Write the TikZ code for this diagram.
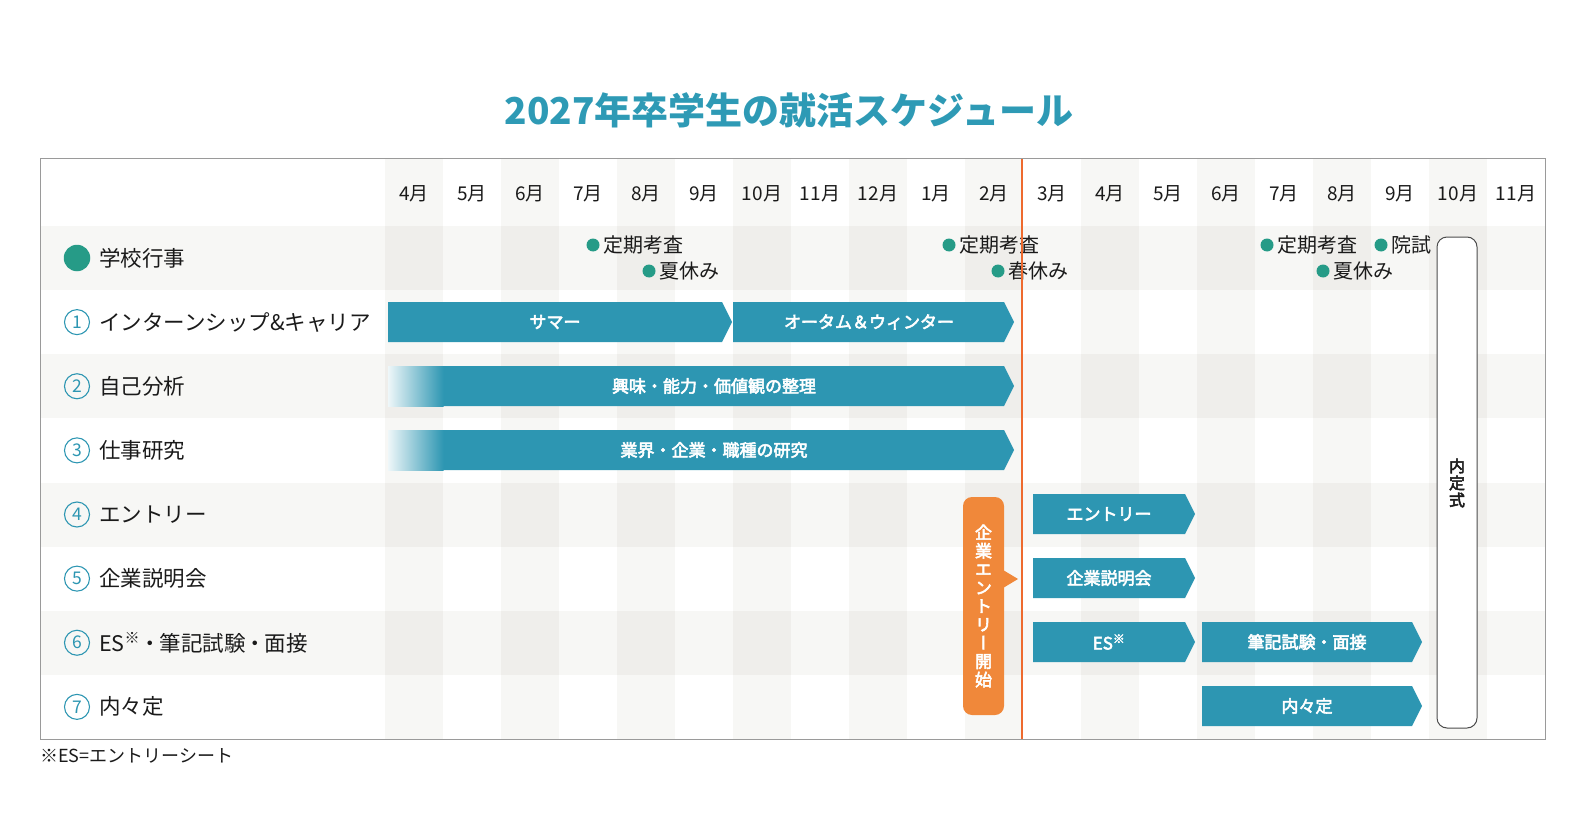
\documentclass[tikz,border=0pt]{standalone}
\usepackage{fontspec}
\usepackage{graphicx}
\setmainfont{Noto Sans CJK JP}
\newfontfamily\medfont[FakeBold=3.2]{Noto Sans CJK JP}
\definecolor{barc}{HTML}{2D96B2}
\definecolor{titlec}{HTML}{2E9AB5}
\definecolor{dotc}{HTML}{269B87}
\definecolor{orangec}{HTML}{F0883A}
\definecolor{linec}{HTML}{EE6A2E}
\definecolor{framec}{HTML}{9A9A9A}
\definecolor{lightc}{HTML}{F7F7F5}
\definecolor{darkc}{HTML}{EFEEEB}
\definecolor{txtc}{HTML}{1A1A1A}
\newcommand\jbar[6]{%
  \fill[barc] (#2,#4-20) -- (#3,#4-20) -- (#3+10,#4) -- (#3,#4+20) -- (#2,#4+20) -- cycle;
  \node[bartext] (#1) at (#5,#4) {#6};}
\newcommand\hdot{\kern-0.05em・\kern-0.05em}
\begin{document}
\begin{tikzpicture}[x=1pt,y=-1pt,
  month/.style={font=\fontsize{19}{21}\selectfont, text=txtc, inner sep=0},
  rowlabel/.style={anchor=west, font=\fontsize{21.5}{24}\selectfont, text=txtc, inner sep=0},
  bartext/.style={text=white, font=\medfont\fontsize{17}{19}\selectfont, inner sep=0},
  evdot/.style={circle, fill=dotc, minimum size=13, inner sep=0},
  evt/.style={anchor=west, font=\fontsize{20}{22}\selectfont, text=txtc, inner sep=0},
  numc/.style={circle, draw=barc, line width=1.1, minimum size=25, inner sep=0, text=barc, font=\fontsize{17.5}{17.5}\selectfont},
  vtext/.style={align=center, inner sep=0, font=\medfont\fontsize{17}{18.4}\selectfont\addfontfeature{RawFeature=+vert}}
]
\useasboundingbox (0,0) rectangle (1584,813);
% background stripes
\foreach \r in {0,2,4,6}
  \fill[lightc] (40,{226+64.125*\r}) rectangle (1545,{290.125+64.125*\r});
\foreach \i in {0,2,...,18} {
  \fill[lightc] ({385+58*\i},159) rectangle ({443+58*\i},739);
  \foreach \r in {0,2,4,6}
    \fill[darkc] ({385+58*\i},{226+64.125*\r}) rectangle ({443+58*\i},{290.125+64.125*\r});
}
\draw[framec, line width=1] (40,159) rectangle (1545,739);
% title
\node[text=titlec, font=\bfseries\fontsize{37}{40}\selectfont, inner sep=0] (title) at (789,110) {2027年卒学生の就活スケジュール};
% months
\foreach \m [count=\k from 0] in {4,5,6,7,8,9,10,11,12,1,2,3,4,5,6,7,8,9,10,11}
  \node[month] (m\k) at ({414+58*\k},194) {\m 月};
% row labels
\node[circle, fill=dotc, minimum size=26.5, inner sep=0] (n0) at (77,258) {};
\node[rowlabel] (l0) at (99,258) {学校行事};
\foreach \t [count=\k from 1] in {インターンシップ\&キャリア,自己分析,仕事研究,エントリー,企業説明会,ES\textsuperscript{※}\hdot 筆記試験\hdot 面接,内々定} {
  \node[numc] (n\k) at (77,{258+64.125*\k}) {\k};
  \node[rowlabel] (l\k) at (99,{258+64.125*\k}) {\t};
}
% school events
\node[evdot] (d1) at (593,245) {}; \node[evt] (e1) at ([xshift=10.5pt]d1.center) {定期考査};
\node[evdot] (d2) at (649,271) {}; \node[evt] (e2) at ([xshift=10.5pt]d2.center) {夏休み};
\node[evdot] (d3) at (949,245) {}; \node[evt] (e3) at ([xshift=10.5pt]d3.center) {定期考査};
\node[evdot] (d4) at (998,271) {}; \node[evt] (e4) at ([xshift=10.5pt]d4.center) {春休み};
\node[evdot] (d5) at (1267,245) {}; \node[evt] (e5) at ([xshift=10.5pt]d5.center) {定期考査};
\node[evdot] (d6) at (1381,245) {}; \node[evt] (e6) at ([xshift=10.5pt]d6.center) {院試};
\node[evdot] (d7) at (1323,271) {}; \node[evt] (e7) at ([xshift=10.5pt]d7.center) {夏休み};
% bars
\jbar{b1}{388}{722}{322}{555}{サマー}
\jbar{b2}{733}{1004}{322}{869}{オータム＆ウィンター}
\jbar{b3}{443}{1004}{386}{714}{興味・能力・価値観の整理}
\shade[left color=barc!8, right color=barc] (388,366) rectangle (443.5,406);
\jbar{b4}{443}{1004}{450}{714}{業界・企業・職種の研究}
\shade[left color=barc!8, right color=barc] (388,430) rectangle (443.5,470);
\jbar{b5}{1033}{1185}{514}{1109}{エントリー}
\jbar{b6}{1033}{1185}{578}{1109}{企業説明会}
\jbar{b7}{1033}{1185}{642}{1109}{ES\textsuperscript{※}}
\jbar{b8}{1202}{1412}{642}{1307}{筆記試験・面接}
\jbar{b9}{1202}{1412}{706}{1307}{内々定}
% orange line
\draw[linec, line width=2] (1022,159) -- (1022,739);
% orange box
\fill[orangec, rounded corners=9] (963,497) rectangle (1004,715);
\fill[orangec] (1003,570) -- (1018,579) -- (1003,588) -- cycle;
\node[vtext, text=white] (start) at (983.5,606) {企\\業\\エ\\ン\\ト\\リ\\ー\\開\\始};
% naiteishiki
\draw[draw=black!70, fill=white, line width=1, rounded corners=10] (1437,237) rectangle (1477,728);
\node[vtext, text=txtc, font=\medfont\fontsize{16}{17}\selectfont] (nts) at (1457,483) {内\\定\\式};
% footnote
\node[anchor=west, inner sep=0, text=txtc, font=\fontsize{18}{20}\selectfont] (note) at (40,756) {※ES=エントリーシート};
\end{tikzpicture}
\end{document}
